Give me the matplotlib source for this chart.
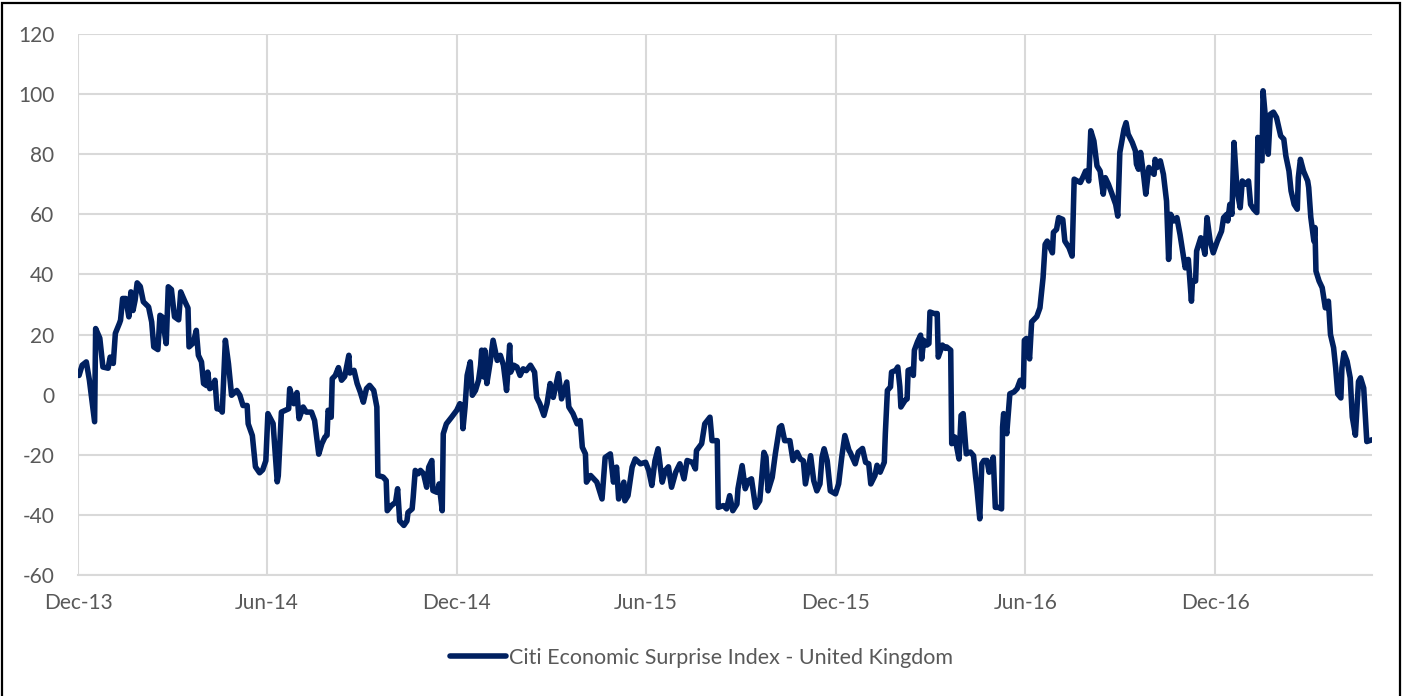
import matplotlib
matplotlib.use("Agg")
import matplotlib.pyplot as plt
import matplotlib.dates as mdates
from matplotlib.patches import Rectangle
import numpy as np
import pandas as pd

# ---- data ----
start_date = "2013-12-01"
series_name = "Citi Economic Surprise Index - United Kingdom"
# day offsets from start_date
day_offsets = [
    1, 4, 8, 11, 13, 16, 17, 21, 24, 29, 31, 34, 36, 40, 41, 43, 46, 49, 51, 53,
    55, 57, 60, 63, 68, 71, 73, 77, 79, 81, 85, 87, 90, 93, 97, 99, 103, 106, 107, 111,
    114, 116, 119, 121, 124, 125, 127, 130, 132, 134, 137, 139, 142, 145, 148, 153, 156, 159, 163, 164,
    168, 171, 175, 178, 181, 183, 188, 192, 193, 196, 203, 204, 208, 211, 213, 217, 220, 225, 228, 232,
    235, 238, 240, 241, 244, 245, 248, 251, 254, 257, 261, 262, 266, 269, 272, 275, 278, 281, 285, 288,
    289, 294, 297, 298, 302, 306, 308, 310, 314, 317, 318, 322, 323, 325, 328, 330, 333, 336, 338, 341,
    342, 346, 348, 351, 352, 355, 360, 365, 368, 370, 371, 373, 375, 378, 380, 383, 386, 388, 389, 391,
    392, 394, 397, 400, 404, 407, 410, 413, 416, 417, 420, 423, 426, 429, 432, 436, 440, 442, 445, 449,
    452, 455, 458, 463, 466, 471, 473, 477, 481, 484, 486, 489, 490, 494, 500, 505, 508, 513, 516, 519,
    521, 526, 527, 530, 534, 537, 542, 547, 550, 553, 556, 559, 563, 566, 569, 572, 576, 580, 584, 587,
    592, 595, 596, 601, 604, 609, 611, 616, 617, 622, 625, 628, 631, 635, 636, 640, 643, 646, 649, 653,
    657, 661, 663, 665, 669, 672, 676, 678, 681, 686, 689, 693, 696, 699, 701, 704, 706, 709, 712, 715,
    717, 719, 722, 725, 730, 733, 736, 739, 743, 744, 747, 749, 752, 756, 759, 762, 764, 768, 770, 773,
    777, 778, 780, 783, 784, 788, 790, 792, 793, 797, 799, 800, 804, 805, 806, 809, 812, 813, 815, 818,
    820, 821, 825, 828, 829, 833, 836, 837, 841, 842, 845, 849, 851, 853, 856, 860, 863, 865, 866, 869,
    871, 873, 876, 878, 881, 882, 884, 887, 890, 891, 892, 895, 898, 902, 905, 908, 911, 912, 914, 917,
    919, 924, 927, 930, 932, 934, 939, 940, 943, 945, 949, 951, 955, 958, 960, 963, 966, 969, 971, 974,
    976, 979, 982, 985, 988, 990, 993, 996, 1000, 1002, 1004, 1008, 1010, 1012, 1016, 1019, 1020, 1022, 1024, 1027,
    1029, 1032, 1034, 1037, 1038, 1040, 1043, 1046, 1049, 1051, 1053, 1056, 1059, 1062, 1065, 1067, 1070, 1073, 1074, 1077,
    1078, 1082, 1084, 1086, 1088, 1091, 1094, 1098, 1102, 1104, 1107, 1108, 1110, 1112, 1114, 1117, 1120, 1122, 1125, 1128,
    1130, 1133, 1136, 1137, 1139, 1141, 1142, 1144, 1147, 1149, 1152, 1155, 1159, 1162, 1164, 1167, 1169, 1172, 1175, 1176,
    1178, 1181, 1185, 1186, 1188, 1191, 1192, 1193, 1196, 1199, 1202, 1205, 1207, 1210, 1212, 1214, 1217, 1218, 1220, 1223,
    1226, 1228, 1231, 1234, 1236, 1239, 1242, 1247,
]
values = [
    6.4, 9.8, 10.9, 4.8, -0.8, -9, 22, 18.8, 9.2, 8.8, 12.5, 10.4, 20.4, 23.8, 24.8, 32, 32, 25.9, 34.2, 28,
    31.4, 37.2, 36, 30.9, 29.2, 24.2, 15.9, 15, 26.4, 25.9, 17, 35.9, 35, 25.9, 24.9, 34.2, 31, 28.8, 15.9, 17.2,
    21.4, 13.1, 10.9, 3.7, 3, 7.5, 2, 2.7, 4.8, -4.7, -4.7, -5.8, 18.1, 10.3, -0.2, 1.4, -0.2, -3.6, -3.6, -9.7,
    -13.6, -24, -26, -25, -22, -6.3, -9.6, -29, -27, -5.8, -4.7, 2, -3, 0.7, -8, -4.1, -5.8, -5.8, -8.6, -19.8,
    -16.3, -14.1, -13.5, -5.2, -7.5, 5.3, 6.4, 9, 4.8, 6, 13.1, 7.2, 8.1, 3.7, 0.9, -2.5, 2, 3.1, 1.4, -4.1,
    -26.9, -27.4, -28.6, -38.6, -36.9, -35.8, -31.3, -42, -43.5, -42, -39.2, -38, -34.2, -25.2, -26.3, -25.2, -26.3, -30.8, -24.1, -21.9,
    -31.9, -32.5, -29.7, -38.6, -13, -9.7, -7.5, -5.2, -3, -3.6, -11.3, -4.1, 6.4, 10.9, -0.2, 1.4, 4.8, 9.8, 14.8, 5.9,
    14.8, 3.7, 10.3, 18.1, 11.4, 13.1, 9.8, 1.4, 16.5, 7.5, 9.8, 9.2, 6.4, 8.6, 8, 9.8, 7.5, -0.9, -3, -6.9,
    -3, 3.7, -0.9, 7, -1.4, 4.2, -4.1, -6.3, -9.7, -8.6, -17.5, -19.7, -29.1, -26.9, -29.1, -34.7, -20.9, -19.7, -29.1, -24.1,
    -34.7, -29.1, -35.3, -33.6, -24.1, -21.4, -23, -22.5, -25.2, -30.2, -22, -18, -29.1, -25.2, -24, -30.8, -25.8, -23, -28, -21.9,
    -22.5, -24.7, -18.6, -16.3, -9.7, -7.5, -15.3, -15.3, -37.5, -36.9, -38, -33.6, -38.6, -36.4, -31.3, -23.6, -31.3, -28.6, -28, -37.5,
    -35.3, -19.2, -20.8, -32, -27.5, -19.7, -10.9, -10.3, -15.3, -15.3, -21.9, -19.2, -21.4, -22, -29.7, -24.1, -20.3, -28.6, -32, -29.7,
    -20.8, -18, -22, -32, -33, -29.7, -20.8, -13.6, -18.6, -19.1, -21.4, -23, -19.1, -17.9, -22.5, -23, -29.7, -26.9, -23.5, -25.8,
    -22.5, -13, 1.4, 2.6, 7.5, 8.1, 9.2, 2.6, -4.1, -1.9, -1.4, 8.1, 8.6, 6.4, 14.8, 17.6, 19.8, 11.9, 18.1, 16.5,
    17, 27.5, 27, 27, 12.5, 16.5, 15.4, 15.9, 14.8, -16.3, -14.1, -21.4, -6.9, -6.3, -19.7, -19.1, -20.3, -27.4, -30.2, -41.3,
    -23, -21.9, -21.9, -25.8, -22.5, -20.8, -37.5, -37.5, -38, -10.8, -6.3, -13, 0.3, 0.9, 2, 4.8, 2.6, 18.1, 18.7, 11.9,
    24.2, 26, 28.9, 38.9, 50, 51.1, 47.2, 54, 55, 58.9, 58.3, 51.1, 48.9, 46.1, 71.7, 71.1, 70.6, 72.8, 74.4, 71.1,
    87.8, 84.4, 76.1, 74.4, 66.7, 72.2, 70, 67.2, 63.3, 59.4, 80.6, 88.3, 90.5, 86.7, 83.9, 81.1, 76.7, 75, 80.6, 72.8,
    66.7, 75.6, 74.4, 73.3, 78.3, 75.6, 77.8, 73.3, 64.4, 45, 60, 57.8, 58.9, 53.3, 46.7, 42.2, 45, 31.1, 37.8, 37.8,
    47.8, 52.2, 50, 46.7, 58.9, 51.1, 47.2, 51.1, 54.4, 58.9, 60, 57.8, 63.3, 60, 83.9, 67.8, 62.2, 71.1, 70, 71.1,
    63.3, 61.7, 60.6, 85.6, 78.3, 77.8, 101.1, 93.3, 80, 93.3, 94, 92.2, 86.1, 85, 79.4, 74.4, 67.8, 63.3, 61.7, 72.2,
    78.3, 74.4, 71.1, 68.9, 59.1, 51.1, 55.6, 41.1, 37.8, 35.6, 28.9, 31.1, 20, 15.6, 8.9, 0.2, -1.1, 8.9, 13.9, 11.1,
    5.6, -7.4, -13.5, 4.4, 5.6, 2.2, -15.6, -15,
]
x_tick_dates = ["2013-12-01", "2014-06-01", "2014-12-01", "2015-06-01",
                "2015-12-01", "2016-06-01", "2016-12-01"]
x_tick_labels = ["Dec-13", "Jun-14", "Dec-14", "Jun-15", "Dec-15", "Jun-16", "Dec-16"]
y_ticks = [-60, -40, -20, 0, 20, 40, 60, 80, 100, 120]
x_end_date = "2017-05-01"

# ---- plot ----
plt.rcParams['font.family'] = ['Lato', 'DejaVu Sans']
plt.rcParams['axes.unicode_minus'] = False
dates = pd.Timestamp(start_date) + pd.to_timedelta(day_offsets, unit="D")

fig = plt.figure(figsize=(14.03, 6.96), dpi=100)
ax = fig.add_axes([78/1403, 1 - 575/696, (1372-78)/1403, (575-34)/696])

line_color = "#002060"
grid_color = "#D9D9D9"
text_color = "#595959"

ax.plot(dates, values, color=line_color, lw=4.0, solid_joinstyle="round",
        solid_capstyle="round", label=series_name, zorder=3)

ax.set_ylim(-60, 120)
ax.set_yticks(y_ticks)
ax.set_xlim(pd.Timestamp(start_date), pd.Timestamp(x_end_date))
ax.set_xticks(pd.to_datetime(x_tick_dates))
ax.set_xticklabels(x_tick_labels)

ax.grid(True, color=grid_color, lw=1.5, zorder=0)
for s in ["top", "right", "left"]:
    ax.spines[s].set_visible(False)
ax.spines["bottom"].set_color(grid_color)
ax.spines["bottom"].set_linewidth(1.5)
ax.tick_params(axis="both", length=0, labelsize=15, labelcolor=text_color)
ax.tick_params(axis="y", pad=17)
ax.tick_params(axis="x", pad=13)

leg = fig.legend(loc="center", bbox_to_anchor=(0.5, 1 - 658/696), frameon=False,
                 fontsize=15.5, handlelength=2.6, handletextpad=0.15)
for t in leg.get_texts():
    t.set_color(text_color)

# outer border
fig.patches.append(Rectangle((2/1403, -0.02), 1398/1403, 1.02 - 3/696,
                             transform=fig.transFigure, fill=False,
                             edgecolor="black", lw=1.6))

fig.savefig("out.png", dpi=100)
